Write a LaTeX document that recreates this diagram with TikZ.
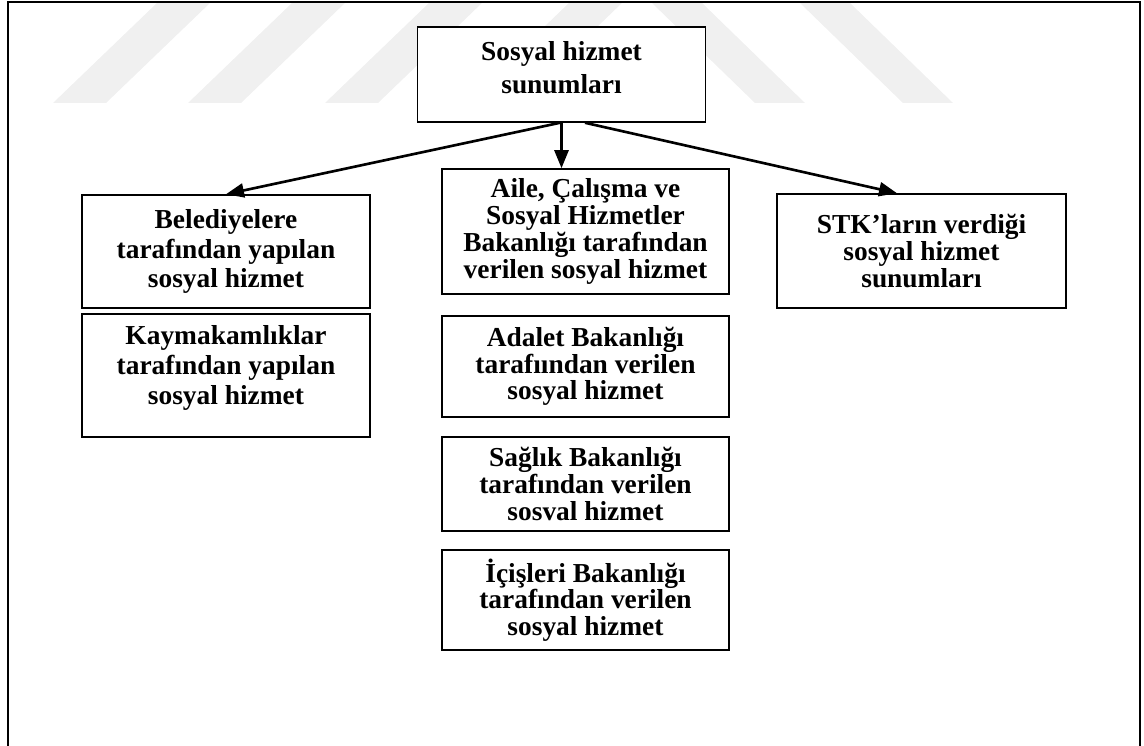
\documentclass[tikz,border=0pt]{standalone}
\usepackage{fontspec}
\setmainfont{Liberation Serif}
\usepackage{tikz}
\usetikzlibrary{arrows.meta, positioning}

\begin{document}
\begin{tikzpicture}[x=0.02cm, y=-0.02cm, thick, every node/.style={align=center}]
      \colorlet{markbg}{black!6}
      \tikzset{
        unitbox/.style={draw=black, line width=0.9pt, fill=white, minimum width=5.76cm,
          font=\fontsize{15.6}{15.2}\selectfont\bfseries, inner sep=0pt},
        widebox/.style={unitbox, font=\fontsize{15.6}{17}\selectfont\bfseries},
        link/.style={-{Triangle[length=0.36cm, width=0.28cm]}, line width=1.5pt}
      }
      \useasboundingbox (0,0) rectangle (1144,746);

      % faint background stripes
      \foreach \b in {53, 188, 325, 465} {
        \fill[markbg] (\b,103) -- (\b+53,103) -- (\b+157,3) -- (\b+104,3) -- cycle;
      }
      \foreach \t in {652, 800} {
        \fill[markbg] (\t,3) -- (\t+50,3) -- (\t+153,103) -- (\t+103,103) -- cycle;
      }

      % outer frame
      \draw[line width=1.3pt] (8,746) -- (8,2) -- (1140,2) -- (1140,746);

      \node[unitbox, minimum height=1.9cm, text depth=7.5pt] (top) at (561.5,74.5) {Sosyal hizmet\\[3.5pt]sunumları};

      \node[widebox, minimum height=2.26cm] (bel) at (226,251.5) {Belediyelere\\tarafından yapılan\\sosyal hizmet};
      \node[widebox, minimum height=2.46cm, text depth=12pt] (kay) at (226,375.5) {Kaymakamlıklar\\tarafından yapılan\\sosyal hizmet};

      \node[unitbox, minimum width=5.74cm, minimum height=2.5cm] (aile) at (585.5,231.5) {Aile, Çalışma ve\\Sosyal Hizmetler\\Bakanlığı tarafından\\verilen sosyal hizmet};
      \node[unitbox, minimum width=5.74cm, minimum height=2.02cm] (adalet) at (585.5,366.5) {Adalet Bakanlığı\\tarafıından verilen\\sosyal hizmet};
      \node[unitbox, minimum width=5.74cm, minimum height=1.88cm] (saglik) at (585.5,484) {Sağlık Bakanlığı\\tarafından verilen\\sosval hizmet};
      \node[unitbox, minimum width=5.74cm, minimum height=2cm] (icisleri) at (585.5,600) {İçişleri Bakanlığı\\tarafından verilen\\sosyal hizmet};

      \node[unitbox, minimum width=5.78cm, minimum height=2.28cm] (stk) at (921.5,251) {STK’ların verdiği\\sosyal hizmet\\sunumları};

      \draw[link] ([xshift=-0.03cm]top.south) -- (bel.north);
      \draw[link] (top.south) -- (top.south |- aile.north);
      \draw[link] ([xshift=0.47cm]top.south) -- ([xshift=-0.49cm]stk.north);
    \end{tikzpicture}
\end{document}
